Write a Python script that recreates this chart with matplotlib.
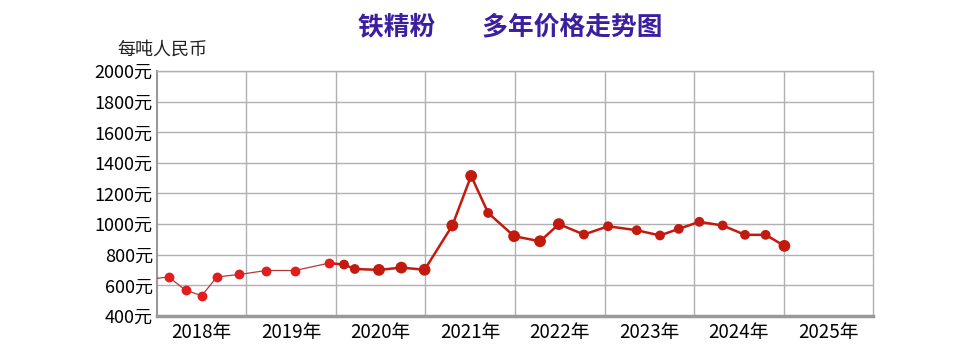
import matplotlib
matplotlib.use("Agg")
import matplotlib.pyplot as plt
import numpy as np

plt.rcParams['font.family'] = ['Noto Sans CJK SC', 'DejaVu Sans']

# 数据 (年份 + 年内位置, 每吨价格)
x_early = [2018.0, 2018.13, 2018.32, 2018.50, 2018.67, 2018.92, 2019.22, 2019.54, 2019.92]
y_early = [646, 655, 568, 533, 655, 671, 697, 697, 745]
x_late = [2019.92, 2020.09, 2020.21, 2020.48, 2020.73, 2020.99, 2021.30, 2021.51, 2021.70,
          2021.99, 2022.28, 2022.49, 2022.77, 2023.04, 2023.36, 2023.62, 2023.83,
          2024.06, 2024.32, 2024.57, 2024.80, 2025.01]
y_late = [745, 736, 707, 701, 716, 702, 991, 1315, 1073,
          921, 888, 1000, 932, 986, 960, 926, 969,
          1015, 991, 930, 930, 858]
big_late = [0, 0, 0, 1, 1, 1, 1, 1, 0,
            1, 1, 1, 0, 0, 0, 0, 0,
            0, 0, 0, 0, 1]

years = list(range(2018, 2026))
year_labels = [f"{y}年" for y in years]
yticks = list(range(400, 2001, 200))
ytick_labels = [f"{v}元" for v in yticks]

fig = plt.figure(figsize=(9.75, 3.56), dpi=100)
ax = fig.add_axes([0.161, 0.1124, 0.7344, 0.6882])

ax.set_xlim(2018, 2026)
ax.set_ylim(400, 2000)

# 网格
ax.set_xticks(years[1:], minor=False)
ax.set_xticks([y + 0.5 for y in years], minor=True)
ax.set_xticklabels([], minor=False)
ax.set_xticklabels(year_labels, minor=True, fontsize=13.5)
ax.set_yticks(yticks)
ax.set_yticklabels(ytick_labels, fontsize=13)
ax.tick_params(axis='both', which='both', length=0)
ax.tick_params(axis='x', which='minor', pad=4)
ax.tick_params(axis='y', pad=3)
ax.grid(True, which='major', color='#b0b0b0', linewidth=1.0)
ax.set_axisbelow(True)

for s in ['top', 'right']:
    ax.spines[s].set_color('#b0b0b0')
    ax.spines[s].set_linewidth(1.0)
ax.spines['left'].set_color('#999999')
ax.spines['left'].set_linewidth(1.5)
ax.spines['bottom'].set_color('#999999')
ax.spines['bottom'].set_linewidth(2.5)

# 折线
ax.plot(x_early, y_early, color='#b23a3a', linewidth=0.9, zorder=3)
ax.scatter(x_early[1:], y_early[1:], s=50, color='#e01e1e', zorder=4, linewidths=0)
ax.plot(x_late, y_late, color='#c41a0e', linewidth=1.8, zorder=3)
sizes = [72 if b else 50 for b in big_late]
ax.scatter(x_late[1:], y_late[1:], s=sizes[1:], color='#c21a0e', zorder=4, linewidths=0)

fig.text(0.523, 0.924, "铁精粉        多年价格走势图", ha='center', va='center',
         fontsize=18.5, color='#3b1fa0', fontweight='bold')
fig.text(0.12, 0.86, "每吨人民币", ha='left', va='center', fontsize=13, color='#222222')

fig.savefig("out.png", dpi=100)
